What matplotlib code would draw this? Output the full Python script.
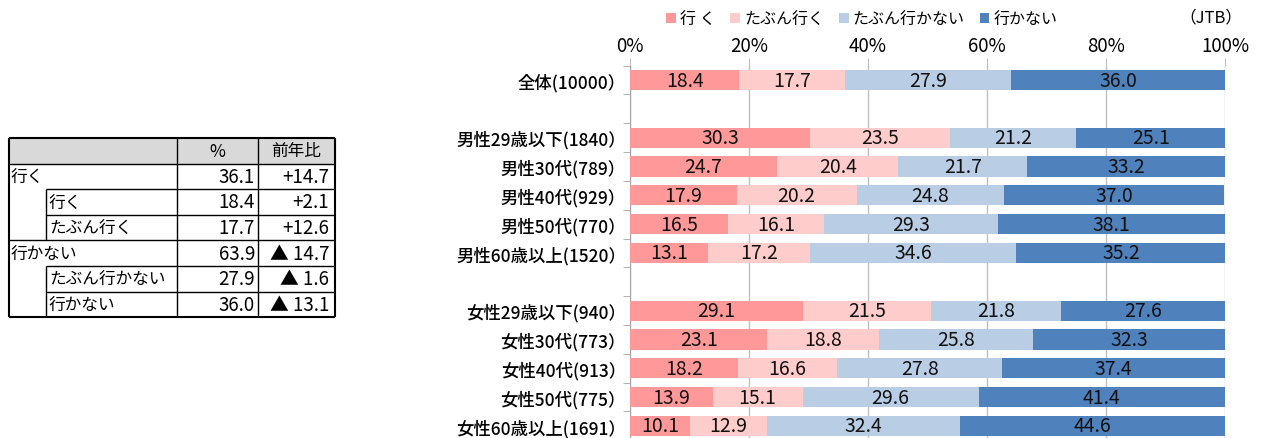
import matplotlib.pyplot as plt
import numpy as np

plt.rcParams["font.family"] = ["Noto Sans CJK JP", "DejaVu Sans"]

# ---- data -------------------------------------------------------------
groups = ["全体(10000）", "",
          "男性29歳以下(1840）", "男性30代(789）", "男性40代(929）", "男性50代(770）", "男性60歳以上(1520）", "",
          "女性29歳以下(940）", "女性30代(773）", "女性40代(913）", "女性50代(775）", "女性60歳以上(1691）"]
iku =        [18.4, None, 30.3, 24.7, 17.9, 16.5, 13.1, None, 29.1, 23.1, 18.2, 13.9, 10.1]
tabun_iku =  [17.7, None, 23.5, 20.4, 20.2, 16.1, 17.2, None, 21.5, 18.8, 16.6, 15.1, 12.9]
tabun_ikan = [27.9, None, 21.2, 21.7, 24.8, 29.3, 34.6, None, 21.8, 25.8, 27.8, 29.6, 32.4]
ikanai =     [36.0, None, 25.1, 33.2, 37.0, 38.1, 35.2, None, 27.6, 32.3, 37.4, 41.4, 44.6]
series_names = ["行 く", "たぶん行く", "たぶん行かない", "行かない"]
colors = ["#FF9999", "#FFCCCC", "#B9CDE5", "#4F81BD"]

tbl_labels = ["行く", "行く", "たぶん行く", "行かない", "たぶん行かない", "行かない"]
tbl_indent = [False, True, True, False, True, True]
tbl_pct = ["36.1", "18.4", "17.7", "63.9", "27.9", "36.0"]
tbl_yoy = ["+14.7", "+2.1", "+12.6", "▲ 14.7", "▲ 1.6", "▲ 13.1"]

# ---- figure -----------------------------------------------------------
W, H = 1265, 439
fig = plt.figure(figsize=(W / 100, H / 100), dpi=100)

# bar chart
ax = fig.add_axes([630 / W, 0, (1225 - 630) / W, (H - 66.6) / H])
ypos = np.arange(len(groups))
data = [iku, tabun_iku, tabun_ikan, ikanai]
left = np.zeros(len(groups))
for vals, c, name in zip(data, colors, series_names):
    v = np.array([0 if x is None else x for x in vals])
    ax.barh(ypos, v, left=left, height=0.7, color=c, label=name, zorder=3)
    for y, (val, l0) in enumerate(zip(vals, left)):
        if val is not None:
            ax.text(l0 + val / 2, y, f"{val:.1f}", ha="center", va="center",
                    fontsize=14, color="#111111", zorder=4)
    left += v

ax.set_xlim(0, 100)
ax.set_ylim(12.42, -0.5)
ax.xaxis.tick_top()
ax.set_xticks(np.arange(0, 101, 20))
ax.set_xticklabels([f"{t}%" for t in range(0, 101, 20)], fontsize=13.5)
ax.tick_params(axis="x", length=6, color="#BFBFBF", pad=1)
ax.grid(axis="x", color="#BFBFBF", lw=1, zorder=0)
ax.set_yticks(ypos)
ax.set_yticklabels(groups, fontsize=12.5, fontweight="medium")
ax.tick_params(axis="y", length=0, pad=3)
ax.set_yticks(np.arange(-0.5, 12.5, 1), minor=True)
ax.tick_params(axis="y", which="minor", length=5, color="#A6A6A6")
for s in ["top", "right", "bottom"]:
    ax.spines[s].set_visible(False)
ax.spines["left"].set_color("#A6A6A6")

fig.legend(loc="center left", bbox_to_anchor=(666 / W, 1 - 20 / H), ncol=4, frameon=False,
           fontsize=11.5, handlelength=0.6, handleheight=0.6, handletextpad=0.25,
           columnspacing=0.95, borderaxespad=0, borderpad=0)
fig.text(1211 / W, 1 - 18 / H, "（JTB）", ha="center", va="center", fontsize=12)

# ---- table ------------------------------------------------------------
tx = fig.add_axes([0, 0, 1, 1])
tx.set_xlim(0, W)
tx.set_ylim(H, 0)
tx.axis("off")

x0, x1, xc1, xc2, x3 = 9, 46, 177, 258, 335
top, rh = 139, 25.6
rows_y = [top + rh * i for i in range(8)]
tx.fill_between([x0, x3], top, top + rh, color="#D9D9D9", zorder=0)

lw = 1.0
def hline(y, a, b, w=lw):
    tx.plot([a, b], [y, y], color="black", lw=w, solid_capstyle="butt")
def vline(x, a, b, w=lw):
    tx.plot([x, x], [a, b], color="black", lw=w, solid_capstyle="butt")

bottom = rows_y[7]
hline(top, x0, x3, 1.5)
hline(bottom, x0, x3, 1.5)
vline(x0, top, bottom, 1.5)
vline(x3, top, bottom, 1.5)
vline(xc1, top, bottom)
vline(xc2, top, bottom)
hline(rows_y[1], x0, x3)
hline(rows_y[4], x0, x3)
for i in [2, 3, 5, 6]:
    hline(rows_y[i], x1, x3)
vline(x1, rows_y[2], rows_y[4])
vline(x1, rows_y[5], rows_y[7])

tx.text((xc1 + xc2) / 2, top + rh / 2, "%", ha="center", va="center", fontsize=12.5)
tx.text((xc2 + x3) / 2, top + rh / 2, "前年比", ha="center", va="center", fontsize=12)
for i, (lab, ind, p, yy) in enumerate(zip(tbl_labels, tbl_indent, tbl_pct, tbl_yoy)):
    yc = rows_y[i + 1] + rh / 2
    tx.text((x1 + 3) if ind else (x0 + 2), yc, lab, ha="left", va="center", fontsize=12)
    tx.text(xc2 - 3, yc, p, ha="right", va="center", fontsize=13.5)
    tx.text(x3 - 6, yc, yy, ha="right", va="center", fontsize=13.5)

fig.savefig("out.png", dpi=100)
